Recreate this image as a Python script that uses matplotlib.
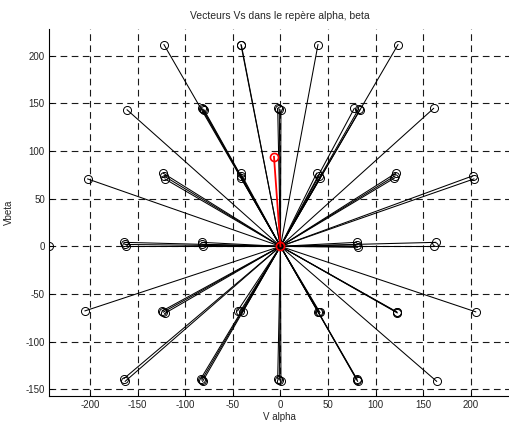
import numpy as np
import matplotlib
matplotlib.use("Agg")
import matplotlib.pyplot as plt

plt.rcParams.update({
    "font.family": ["Liberation Sans", "DejaVu Sans"],
    "font.size": 7,
    "axes.unicode_minus": False,
})

# extremites des vecteurs Vs (V alpha, V beta)
va = [-122.3, -41.5, -41.0, 39.4, 123.4,
      -161.0, -82.7, -80.3, -81.5, -2.9, 0.5, -1.2, 77.5, 83.5, 82.0, 160.8,
      -202.4, -123.0, -121.3, -121.8, -41.8, -41.2, -41.5, 38.0, 41.5, 40.5, 121.0, 119.5, 120.3, 201.8, 203.1,
      -164.3, -162.5, -163.4, -82.7, -81.7, -82.2, 0.0, 80.0, 81.0, 80.5, 163.0, 161.5,
      -205.2, -124.0, -121.6, -123.0, -45.0, -39.7, -42.3, 39.7, 41.5, 40.6, 122.0, 122.6, 122.3, 205.0,
      -164.3, -163.0, -83.5, -81.7, -82.6, -2.9, 0.5, -1.2, 80.0, 81.0, 80.5, 164.0]
vb = [211.6, 211.6, 211.0, 211.6, 211.6,
      143.2, 144.7, 143.2, 144.0, 144.7, 143.2, 144.0, 144.7, 143.2, 144.0, 144.7,
      70.7, 76.7, 70.7, 73.5, 76.7, 71.5, 74.0, 76.7, 71.5, 74.0, 76.7, 71.5, 74.0, 73.9, 70.7,
      4.2, 0.0, 2.0, 4.2, 0.0, 2.0, 0.0, 4.2, -1.0, 1.5, 4.2, 0.0,
      -67.7, -67.7, -70.4, -69.0, -67.7, -69.0, -68.3, -68.7, -69.4, -69.0, -68.7, -69.8, -69.2, -68.7,
      -138.7, -141.6, -138.7, -141.6, -140.2, -138.7, -141.6, -140.2, -138.7, -141.6, -140.2, -141.6]

# point isole sur l'axe alpha
va_iso = [-243.0]
vb_iso = [0.0]

# vecteur Vs courant (en rouge)
va_ref = [0.0, -6.8]
vb_ref = [0.0, 94.0]

fig = plt.figure(figsize=(5.09, 4.23), dpi=100)
ax = fig.add_axes([49 / 509, 27 / 423, 461 / 509, 367 / 423])

for x, y in zip(va, vb):
    ax.plot([0, x], [0, y], color="k", lw=0.75, zorder=2)
    ax.plot(x, y, "o", ms=5.8, mfc="none", mec="k", mew=0.7, zorder=3)
ax.plot(va_iso, vb_iso, "o", ms=5.8, mfc="none", mec="k", mew=0.7, zorder=3)

ax.plot(va_ref, vb_ref, color="red", lw=1.3, zorder=4)
ax.plot(va_ref, vb_ref, "o", ms=5.8, mfc="none", mec="red", mew=1.2, ls="none", zorder=5)

ax.set_xlim(-243, 241)
ax.set_ylim(-157, 228)
ax.set_xticks(np.arange(-200, 201, 50))
ax.set_yticks(np.arange(-150, 201, 50))
ax.grid(True, color="0.1", lw=0.8, linestyle=(0, (6, 4)), zorder=1)
ax.set_axisbelow(True)
for s in ["top", "right"]:
    ax.spines[s].set_visible(False)
ax.spines["left"].set_linewidth(0.8)
ax.spines["bottom"].set_linewidth(0.8)
ax.tick_params(direction="in", length=3, width=0.7, colors="k", labelcolor="0.15", pad=3)

ax.set_title("Vecteurs Vs dans le repère alpha, beta", fontsize=7.5, color="0.15", pad=7)
ax.set_xlabel("V alpha", color="0.15", labelpad=1)
ax.set_ylabel("Vbeta", color="0.15", labelpad=8)

fig.savefig("out.png", dpi=100)
